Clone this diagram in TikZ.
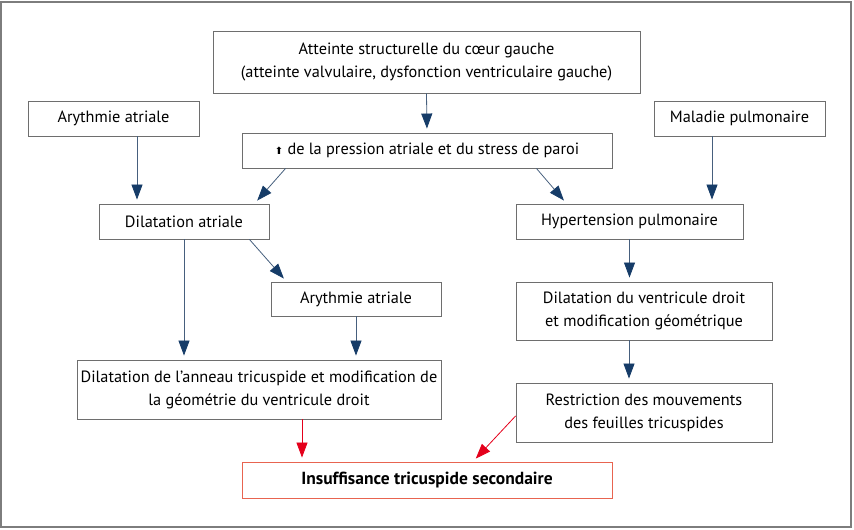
\documentclass[tikz,border=0pt]{standalone}
\usepackage{fontspec}
\setmainfont{PT Sans}
\newfontfamily\symfont{DejaVu Sans}
\usepackage{tikz}
\usetikzlibrary{arrows.meta}
\definecolor{boxgray}{RGB}{110,110,110}
\definecolor{framegray}{RGB}{125,125,125}
\definecolor{shaftblue}{RGB}{70,95,125}
\definecolor{tipblue}{RGB}{22,60,104}
\definecolor{redtip}{RGB}{228,0,27}
\definecolor{redborder}{RGB}{232,100,80}
\tikzstyle{box} = [rectangle, draw=boxgray, line width=0.9pt, text centered, inner sep=0pt, font=\fontsize{16.3}{23}\selectfont]
\tikzstyle{redbox} = [box, draw=redborder, font=\fontsize{17.5}{23}\selectfont\bfseries]
\tikzstyle{arrow} = [line width=0.8pt, draw=shaftblue, shorten >=4pt, -{Triangle[length=15pt,width=11pt,color=tipblue]}]
\tikzstyle{redarrow} = [arrow, draw=redtip, -{Triangle[length=15pt,width=11pt,color=redtip]}]
\begin{document}
\begin{tikzpicture}[x=1pt,y=-1pt]
\useasboundingbox (0,0) rectangle (854,530);
\draw[framegray, line width=1.2pt] (1,2) rectangle (851,527);
% boxes
\node[box, minimum width=427pt, minimum height=62pt, align=center] (coeur) at (426.5,62) {Atteinte structurelle du cœur gauche\\(atteinte valvulaire, dysfonction ventriculaire gauche)};
\node[box, minimum width=171pt, minimum height=35pt] (arythA) at (113.5,118.5) {Arythmie atriale};
\node[box, minimum width=370pt, minimum height=35pt] (pression) at (427,150.5) {{\symfont\fontsize{10}{10}\selectfont ⬆}\ de la pression atriale et du stress de paroi};
\node[box, minimum width=171pt, minimum height=35pt] (maladie) at (739.5,118.5) {Maladie pulmonaire};
\node[box, minimum width=170pt, minimum height=35pt] (dilatA) at (184,221.5) {Dilatation atriale};
\node[box, minimum width=227pt, minimum height=35pt] (htp) at (629.5,221.5) {Hypertension pulmonaire};
\node[box, minimum width=170pt, minimum height=34pt] (arythB) at (356,299) {Arythmie atriale};
\node[box, minimum width=256pt, minimum height=58pt, align=center] (dilatVD) at (644,311) {Dilatation du ventricule droit\\et modification géométrique};
\node[box, minimum width=364pt, minimum height=59pt, align=center] (anneau) at (259,389.5) {Dilatation de l’anneau tricuspide et modification de\\la géométrie du ventricule droit};
\node[box, minimum width=256pt, minimum height=59pt, align=center] (restr) at (644,412.5) {Restriction des mouvements\\des feuilles tricuspides};
\node[redbox, minimum width=370pt, minimum height=36pt] (insuf) at (427,480) {Insuffisance tricuspide secondaire};
% arrows
\draw[arrow] (coeur.south) -- (pression.north);
\draw[arrow] ([xshift=23.5pt]arythA.south) -- ([xshift=-47pt]dilatA.north);
\draw[arrow] ([xshift=44pt]pression.south west) -- ([xshift=156pt]dilatA.north west);
\draw[arrow] ([xshift=-76pt]pression.south east) -- ([xshift=51pt]htp.north west);
\draw[arrow] ([xshift=-27.5pt]maladie.south) -- ([xshift=82.5pt]htp.north);
\draw[arrow] (dilatA.south) -- ([xshift=-75pt]anneau.north);
\draw[arrow] ([xshift=-20pt]dilatA.south east) -- ([xshift=16pt]arythB.north west);
\draw[arrow] (arythB.south) -- (arythB.south |- anneau.north);
\draw[arrow] (htp.south) -- (htp.south |- dilatVD.north);
\draw[arrow] ([xshift=-15pt]dilatVD.south) -- ([xshift=-15pt]restr.north);
\draw[redarrow] ([xshift=43pt]anneau.south) -- ([xshift=-125pt]insuf.north);
\draw[redarrow] ([yshift=-3.5pt]restr.west) -- ([xshift=46pt]insuf.north);
\end{tikzpicture}
\end{document}
